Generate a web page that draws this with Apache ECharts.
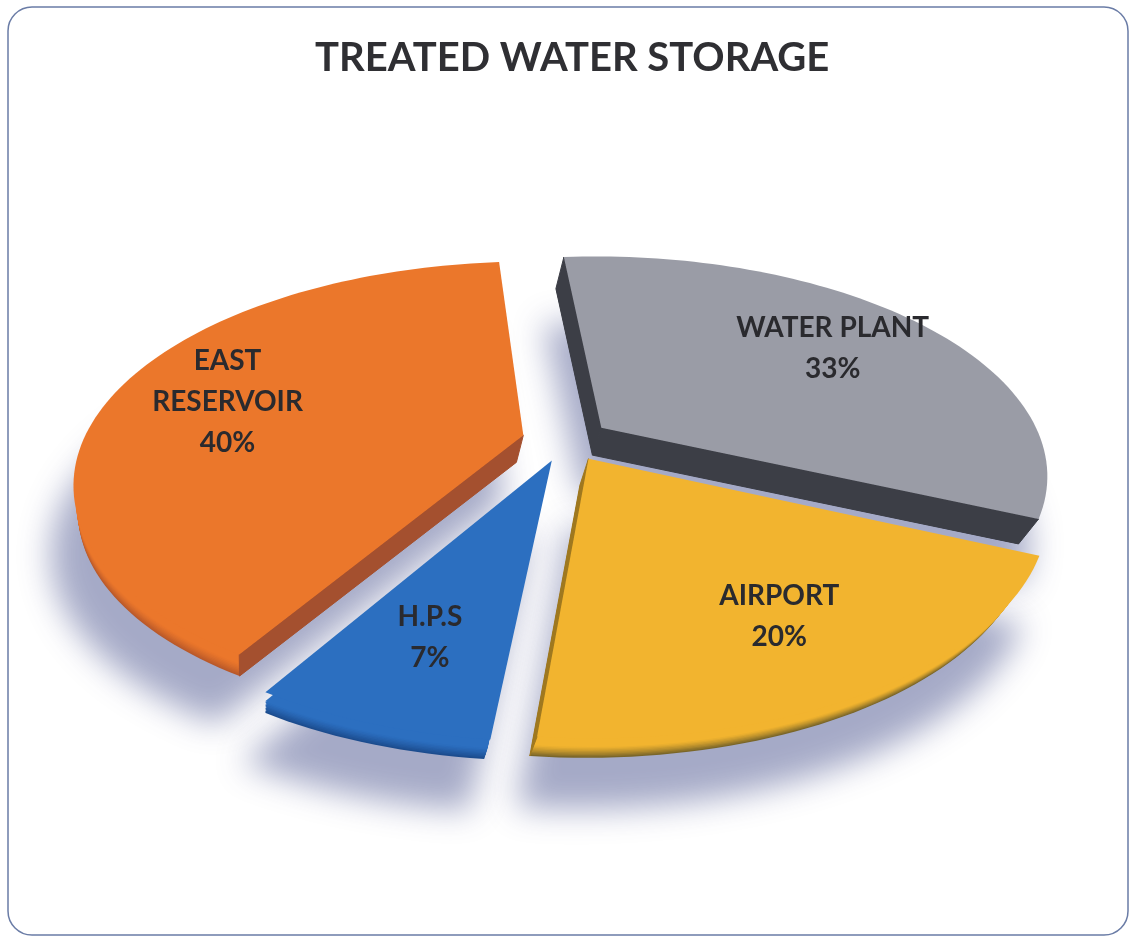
<!DOCTYPE html>
<html>
<head>
<meta charset="utf-8">
<title>Treated Water Storage</title>
<script src="https://cdn.jsdelivr.net/npm/echarts@6/dist/echarts.min.js"></script>
<style>
  html, body { margin: 0; padding: 0; background: #ffffff; }
  #chart { width: 1131px; height: 938px; }
</style>
</head>
<body>
<div id="chart"></div>
<script>
// Storage shares, clockwise from the top
const categories = ['WATER PLANT', 'AIRPORT', 'H.P.S', 'EAST RESERVOIR'];
const shares = [33, 20, 7, 40];
const labelNames = ['WATER PLANT', 'AIRPORT', 'H.P.S', 'EAST\nRESERVOIR'];

// Face / rim / side colours per slice
const faceColors = ['#9a9ca6', '#f2b42f', '#2c6fc0', '#eb772b'];
const rimEdgeColors = ['#44464e', '#7a6629', '#1c4c8e', '#b9592a'];
const sideColors = ['#3c3e46', '#9f781f', '#1e4e8a', '#a4502f'];

// Tilted-disc projection parameters
const CX = 566, CY = 440;          // centre of the pie
const RX = 440, RY = 212;          // half axes of the disc
const PERSP = 0.21;                // nearer half drawn larger
const EXPLODE = 0.1;               // slice pull-out, fraction of radius
const DEPTH = 27;                  // disc thickness in px at the centre
const VPX = 250, VPY = 1500;       // vanishing point for the side walls
const START = -5 * Math.PI / 180;  // first slice boundary, clockwise from 12 o'clock
const LABEL_R = 0.72;
const RIM_LAYERS = [1, 0.93, 0.86, 0.79, 0.72, 0.65, 0.58, 0.51, 0.44];

const total = shares.reduce((a, b) => a + b, 0);

function project(u, v, h) {
  const w = 1 - PERSP * v;
  let x = CX + RX * u / w;
  let y = CY + RY * v / w;
  if (h) {
    const t = h * DEPTH / (VPY - CY);
    x += t * (VPX - x);
    y += t * (VPY - y);
  }
  return [x, y];
}

function hexToRgb(h) {
  const n = parseInt(h.slice(1), 16);
  return [(n >> 16) & 255, (n >> 8) & 255, n & 255];
}
function mixColor(a, b, t) {
  const ca = hexToRgb(a), cb = hexToRgb(b);
  const c = ca.map((v, k) => Math.round(v + (cb[k] - v) * t));
  return 'rgb(' + c.join(',') + ')';
}

function sliceGeometry(i) {
  let cum = 0;
  for (let k = 0; k < i; k++) cum += shares[k];
  const a0 = START + 2 * Math.PI * cum / total;
  const a1 = a0 + 2 * Math.PI * shares[i] / total;
  const mid = (a0 + a1) / 2;
  const ou = EXPLODE * Math.sin(mid), ov = -EXPLODE * Math.cos(mid);
  const pts = [[ou, ov]];
  const n = Math.max(4, Math.ceil((a1 - a0) / (Math.PI / 120)));
  for (let k = 0; k <= n; k++) {
    const a = a0 + (a1 - a0) * k / n;
    pts.push([ou + Math.sin(a), ov - Math.cos(a)]);
  }
  return { a0, a1, mid, ou, ov, pts };
}

// draw back slices first
const drawOrder = shares.map((_, i) => i)
  .sort((a, b) => (-Math.cos(sliceGeometry(a).mid)) - (-Math.cos(sliceGeometry(b).mid)));

function renderShadow(params, api) {
  const i = api.value(0);
  const g = sliceGeometry(i);
  const shift = 3000;
  const pts = g.pts.map(p => {
    const q = project(p[0] * 1.03, p[1] * 1.03, 1);
    return [q[0] - shift, q[1]];
  });
  return {
    type: 'polygon',
    shape: { points: pts },
    style: {
      fill: 'rgba(150,156,190,0.9)',
      shadowBlur: 32,
      shadowColor: 'rgba(150,156,190,0.95)',
      shadowOffsetX: shift - 12,
      shadowOffsetY: 40
    },
    silent: true
  };
}

function cross(o, a, b) {
  return (a[0] - o[0]) * (b[1] - o[1]) - (a[1] - o[1]) * (b[0] - o[0]);
}

function renderSlice(params, api) {
  const i = api.value(0);
  const g = sliceGeometry(i);
  const top = g.pts.map(p => project(p[0], p[1], 0));
  const bot = g.pts.map(p => project(p[0], p[1], 1));
  const children = [];

  // rounded rim: stacked copies of the slice, darkest at the base
  RIM_LAYERS.forEach(h => {
    const t = Math.max(0, Math.min(1, (h - 0.44) / 0.56));
    const col = mixColor(faceColors[i], rimEdgeColors[i], Math.pow(t, 1.3));
    children.push({
      type: 'polygon',
      shape: { points: g.pts.map(p => project(p[0], p[1], h)) },
      style: { fill: col }
    });
  });

  // radial walls facing the viewer
  const m = top.length;
  const cen = top.reduce((s, p) => [s[0] + p[0] / m, s[1] + p[1] / m], [0, 0]);
  [[0, 1], [m - 1, 0]].forEach(([a, b]) => {
    const inner = Math.sign(cross(top[a], top[b], cen));
    const midBot = [(bot[a][0] + bot[b][0]) / 2, (bot[a][1] + bot[b][1]) / 2];
    const side = Math.sign(cross(top[a], top[b], midBot));
    if (side !== inner) {
      children.push({
        type: 'polygon',
        shape: { points: [top[a], top[b], bot[b], bot[a]] },
        style: { fill: sideColors[i], stroke: sideColors[i], lineWidth: 1 }
      });
    }
  });

  children.push({
    type: 'polygon', shape: { points: top },
    style: { fill: faceColors[i] }
  });

  const lu = g.ou + LABEL_R * Math.sin(g.mid);
  const lv = g.ov - LABEL_R * Math.cos(g.mid);
  const lp = project(lu, lv, 0);
  children.push({
    type: 'text',
    style: {
      x: lp[0], y: lp[1],
      text: labelNames[i] + '\n' + shares[i] + '%',
      align: 'center', verticalAlign: 'middle',
      fontFamily: 'Lato', fontWeight: 'bold', fontSize: 28,
      lineHeight: 41,
      fill: '#2a2a2e'
    }
  });
  return { type: 'group', children };
}

const chart = echarts.init(document.getElementById('chart'), null, { renderer: 'canvas' });
chart.setOption({
  backgroundColor: '#ffffff',
  animation: false,
  title: {
    text: 'TREATED WATER STORAGE',
    left: 310,
    top: 33,
    textStyle: { fontFamily: 'Lato', fontWeight: 'bold', fontSize: 40, color: '#2f2f33' }
  },
  graphic: [{
    type: 'rect',
    shape: { x: 8, y: 7, width: 1120, height: 928, r: 24 },
    style: { fill: 'none', stroke: '#6a7ca6', lineWidth: 1.5 },
    z: 0, silent: true
  }],
  series: [
    {
      type: 'custom',
      name: 'shadow',
      coordinateSystem: 'none',
      renderItem: renderShadow,
      data: drawOrder.map(i => ({ name: categories[i], value: [i, shares[i]] })),
      z: 1
    },
    {
      type: 'custom',
      name: 'TREATED WATER STORAGE',
      coordinateSystem: 'none',
      renderItem: renderSlice,
      data: drawOrder.map(i => ({ name: categories[i], value: [i, shares[i]] })),
      z: 2
    }
  ]
});
</script>
</body>
</html>
